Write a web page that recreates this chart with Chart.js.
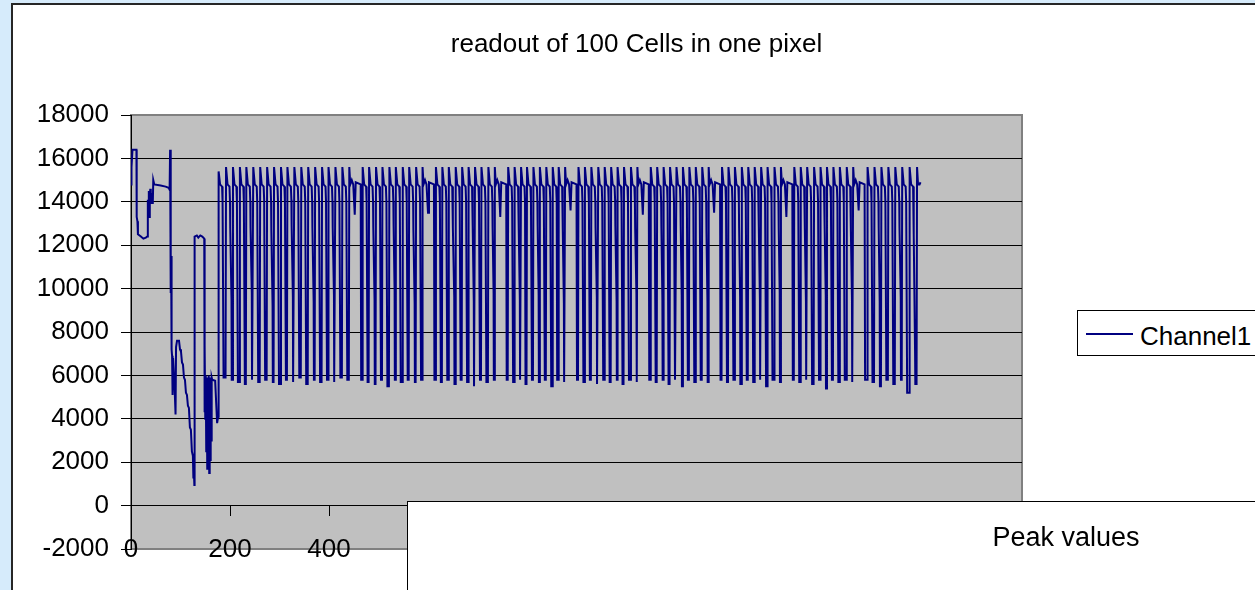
<!DOCTYPE html>
<html>
<head>
<meta charset="utf-8">
<script src="https://cdn.jsdelivr.net/npm/chart.js@4.4.0/dist/chart.umd.min.js"></script>
<style>
html,body{margin:0;padding:0;width:1255px;height:590px;overflow:hidden;background:#d6ebfb;font-family:"Liberation Sans",Arial,sans-serif;}
#frame{position:absolute;left:11px;top:3px;width:1400px;height:700px;background:#fff;border:2px solid #262626;box-sizing:border-box;}
#chartBox{position:absolute;left:0;top:0;width:1255px;height:590px;}
#title{position:absolute;left:0;width:1273px;top:28px;text-align:center;font-size:26px;color:#000;white-space:nowrap;}
#legend{position:absolute;left:1077px;top:310px;width:240px;height:46px;border:1px solid #000;background:#fff;box-sizing:border-box;}
#legend .sw{position:absolute;left:8px;top:22px;width:47px;height:2px;background:#000080;}
#legend .tx{position:absolute;left:62px;top:10px;font-size:26px;line-height:30px;color:#000;white-space:nowrap;}
#peak{position:absolute;left:407px;top:501px;width:1000px;height:200px;border:1px solid #000;background:#fff;box-sizing:border-box;}
#peak .tx{position:absolute;left:0;width:1316px;top:20px;text-align:center;font-size:27px;line-height:30px;color:#000;white-space:nowrap;}
</style>
</head>
<body>
<div id="frame"></div>
<div id="chartBox"><canvas id="c" width="1255" height="590"></canvas></div>
<div id="title">readout of 100 Cells in one pixel</div>
<div id="legend"><div class="sw"></div><div class="tx">Channel1</div></div>
<div id="peak"><div class="tx">Peak values</div></div>
<script>
// ---- data: [sample index, ADC value] ----
const seriesName = "Channel1";
const xRange = [0, 1800];
const yRange = [-2000, 18000];
const xStep = 200;
const yStep = 2000;

const startup = [[0,14800],[1,15600],[3,16400],[11,16400],[11.5,13300],[13,13100],[14,12500],[20,12400],[25,12300],[30,12350],[33,12400],[34,14100],[35,13400],[36,14500],[37,13300],[38,14300],[39,14600],[40,13900],[41,14400],[42,13900],[43,14200],[44,13900],[45,15000],[47,14800],[60,14750],[70,14700],[76,14650],[78,14550],[79,16400],[80,11600],[80.5,9800],[81,11500],[82,7200],[83,6900],[84,5100],[85,6800],[88,5500],[90,4200],[91,7300],[93,7600],[97,7600],[99,7200],[101,7100],[103,6600],[105,6500],[107,5900],[109,5800],[111,5200],[113,5100],[115,4600],[117,4500],[119,3600],[121,3500],[123,2500],[125,2300],[126,1300],[127,1600],[128,950],[128.5,12400],[133,12450],[136,12350],[140,12450],[144,12400],[148,12300],[148.5,4300],[149,7400],[150,4000],[151,6000],[152,2500],[153,5800],[154,1700],[155,5900],[156,2200],[157,6000],[158,1500],[159,5800],[160,2100],[161,5900],[162,3000],[163,5900],[164,5800],[170,5750],[174,3800],[176,4100]];

const group1 = [[177,15400],[180,14800],[184,14700],[185,14000],[187,5900],
[191,5900],[192,15600],[195,14800],[199,14700],[200,14000],[200.5,12800],[203,9500],[203.5,5800],
[205,5800],[206,15600],[209,14800],[213,14700],[214,14000],[216,5700],
[219,5700],[220,15600],[223,14800],[227,14700],[228,14000],[230,5600],
[232,5600],[233,15600],[236,14800],[240,14700],[241,14000],[241.5,12800],[244,9800],[244.5,5800],
[246,5800],[247,15600],[250,14800],[254,14700],[255,14000],[257,5700],
[260,5700],[261,15600],[264,14800],[268,14700],[269,14100],[271,5800],
[274,5800],[275,15600],[278,14800],[282,14700],[283,14000],[283.5,12700],[286,9200],[286.5,5700],
[288,5700],[289,15600],[292,14800],[296,14700],[297,14000],[299,5600],
[302,5600],[303,15600],[306,14800],[310,14700],[311,14000],[313,5800],
[315,5800],[316,15600],[319,14800],[323,14700],[324,14100],[324.5,12900],[327,9600],[327.5,5700],
[329,5700],[330,15600],[333,14800],[337,14700],[338,14000],[340,5900],
[343,5900],[344,15600],[347,14800],[351,14700],[352,14000],[354,5600],
[357,5600],[358,15600],[361,14800],[365,14700],[366,14000],[366.5,12800],[369,9400],[369.5,5800],
[371,5800],[372,15600],[375,14800],[379,14700],[380,14000],[382,5700],
[385,5700],[386,15600],[389,14800],[393,14700],[394,14000],[396,5800],
[398,5800],[399,15600],[402,14800],[406,14700],[407,14000],[407.5,12800],[410,9700],[410.5,5700],
[412,5700],[413,15600],[416,14800],[420,14700],[421,14000],[423,5900],
[426,5900],[427,15600],[430,14800],[434,14700],[435,14000],[437,5800],
[440,5800],[441,15600],[443,14800],[446,15000],[449,14800],[452,13400],[454,14900],[464,14800],[465,5800]];

const group2 = [[467,5800],[468,15600],[471,14800],[475,14700],[476,14000],[478,5700],
[480,5700],[481,15600],[484,14800],[488,14700],[489,14000],[489.5,12800],[492,9500],[492.5,5600],
[494,5600],[495,15600],[498,14800],[502,14700],[503,14000],[505,5800],
[507,5800],[508,15600],[511,14800],[515,14700],[516,14000],[518,5500],
[521,5500],[522,15600],[525,14800],[529,14700],[530,14000],[530.5,12900],[532.5,9900],[533,5800],
[534,5800],[535,15600],[538,14800],[542,14700],[543,14100],[545,5700],
[548,5700],[549,15600],[552,14800],[556,14700],[557,14000],[559,5800],
[561,5800],[562,15600],[565,14800],[569,14700],[570,14000],[570.5,12700],[573,9300],[573.5,5700],
[575,5700],[576,15600],[579,14800],[583,14700],[584,14000],[586,5800],
[588,5800],[589,15600],[591,14800],[594,15000],[597,14800],[600,13500],[602,14900],[612,14800],[613,5800]];

const group3 = [[615,5800],[616,15600],[619,14800],[623,14700],[624,14000],[626,5700],
[628,5700],[629,15600],[632,14800],[636,14700],[637,14000],[639,5800],
[641,5800],[642,15600],[645,14800],[649,14700],[650,14000],[650.5,12800],[653,9600],[653.5,5600],
[655,5600],[656,15600],[659,14800],[663,14700],[664,14000],[666,5800],
[668,5800],[669,15600],[672,14800],[676,14700],[677,14000],[679,5700],
[681,5700],[682,15600],[685,14800],[689,14700],[690,14100],[690.5,12900],[692.5,9400],[693,5500],
[694,5500],[695,15600],[698,14800],[702,14700],[703,14000],[705,5800],
[707,5800],[708,15600],[711,14800],[715,14700],[716,14000],[718,5700],
[721,5700],[722,15600],[725,14800],[729,14700],[730,14000],[730.5,12800],[732.5,9800],[733,5800],
[734,5800],[735,15600],[737,14800],[740,15000],[743,14800],[746,13300],[748,14900],[758,14800],[759,5800]];

const group4 = [[761,5800],[762,15600],[765,14800],[769,14700],[770,14000],[772,5700],
[774,5700],[775,15600],[778,14800],[782,14700],[783,14000],[783.5,12800],[785.5,9500],[786,5800],
[787,5800],[788,15600],[791,14800],[795,14700],[796,14000],[797,5600],
[799,5600],[800,15600],[803,14800],[807,14700],[808,14000],[810,5800],
[812,5800],[813,15600],[816,14800],[820,14700],[821,14000],[821.5,12900],[823.5,9700],[824,5700],
[825,5700],[826,15600],[829,14800],[833,14700],[834,14000],[836,5800],
[838,5800],[839,15600],[842,14800],[846,14700],[847,14100],[849,5500],
[851,5500],[852,15600],[855,14800],[859,14700],[860,14000],[861,5800],
[863,5800],[864,15600],[867,14800],[871,14700],[872,14000],[872.5,12700],[874.5,9300],[875,5700],
[876,5700],[877,15600],[879,14800],[882,15000],[885,14800],[888,13600],[890,14900],[900,14800],[901,5800]];

const group5 = [[903,5800],[904,15600],[907,14800],[911,14700],[912,14000],[914,5700],
[916,5700],[917,15600],[920,14800],[924,14700],[925,14000],[927,5800],
[929,5800],[930,15600],[933,14800],[937,14700],[938,14000],[938.5,12800],[941,9600],[941.5,5600],
[943,5600],[944,15600],[947,14800],[951,14700],[952,14000],[954,5800],
[956,5800],[957,15600],[960,14800],[964,14700],[965,14000],[967,5700],
[969,5700],[970,15600],[973,14800],[977,14700],[978,14100],[978.5,12900],[981,9400],[981.5,5800],
[982,5800],[983,15600],[986,14800],[990,14700],[991,14000],[993,5600],
[995,5600],[996,15600],[999,14800],[1003,14700],[1004,14000],[1006,5800],
[1009,5800],[1010,15600],[1013,14800],[1017,14700],[1018,14000],[1018.5,12800],[1021,9800],[1021.5,5700],
[1022,5700],[1023,15600],[1025,14800],[1028,15000],[1031,14800],[1034,13400],[1036,14900],[1046,14800],[1047,5800]];

const group6 = [[1049,5800],[1050,15600],[1053,14800],[1057,14700],[1058,14000],[1060,5700],
[1062,5700],[1063,15600],[1066,14800],[1070,14700],[1071,14000],[1071.5,12800],[1073.5,9500],[1074,5800],
[1075,5800],[1076,15600],[1079,14800],[1083,14700],[1084,14000],[1086,5600],
[1088,5600],[1089,15600],[1092,14800],[1096,14700],[1097,14000],[1099,5800],
[1101,5800],[1102,15600],[1105,14800],[1109,14700],[1110,14000],[1110.5,12900],[1112.5,9700],[1113,5500],
[1114,5500],[1115,15600],[1118,14800],[1122,14700],[1123,14000],[1125,5800],
[1127,5800],[1128,15600],[1131,14800],[1135,14700],[1136,14100],[1138,5700],
[1140,5700],[1141,15600],[1144,14800],[1148,14700],[1149,14000],[1151,5800],
[1153,5800],[1154,15600],[1157,14800],[1161,14700],[1162,14000],[1162.5,12700],[1164.5,9400],[1165,5700],
[1166,5700],[1167,15600],[1169,14800],[1172,15000],[1175,14800],[1178,13500],[1180,14900],[1190,14800],[1191,5800]];

const group7 = [[1193,5800],[1194,15600],[1197,14800],[1201,14700],[1202,14000],[1204,5700],
[1206,5700],[1207,15600],[1210,14800],[1214,14700],[1215,14000],[1217,5800],
[1219,5800],[1220,15600],[1223,14800],[1227,14700],[1228,14000],[1228.5,12800],[1230.5,9600],[1231,5600],
[1233,5600],[1234,15600],[1237,14800],[1241,14700],[1242,14000],[1244,5800],
[1246,5800],[1247,15600],[1250,14800],[1254,14700],[1255,14000],[1257,5700],
[1259,5700],[1260,15600],[1263,14800],[1267,14700],[1268,14100],[1268.5,12900],[1270.5,9500],[1271,5800],
[1272,5800],[1273,15600],[1276,14800],[1280,14700],[1281,14000],[1283,5500],
[1285,5500],[1286,15600],[1289,14800],[1293,14700],[1294,14000],[1296,5800],
[1299,5800],[1300,15600],[1303,14800],[1307,14700],[1308,14000],[1308.5,12800],[1310.5,9800],[1311,5700],
[1312,5700],[1313,15600],[1315,14800],[1318,15000],[1321,14800],[1324,13300],[1326,14900],[1336,14800],[1337,5800]];

const group8 = [[1339,5800],[1340,15600],[1343,14800],[1347,14700],[1348,14000],[1350,5700],
[1352,5700],[1353,15600],[1356,14800],[1360,14700],[1361,14000],[1361.5,12800],[1363.5,9400],[1364,5800],
[1365,5800],[1366,15600],[1369,14800],[1373,14700],[1374,14000],[1376,5600],
[1379,5600],[1380,15600],[1383,14800],[1387,14700],[1388,14000],[1390,5800],
[1392,5800],[1393,15600],[1396,14800],[1400,14700],[1401,14000],[1401.5,12900],[1403.5,9700],[1404,5400],
[1405,5400],[1406,15600],[1409,14800],[1413,14700],[1414,14000],[1416,5800],
[1418,5800],[1419,15600],[1422,14800],[1426,14700],[1427,14100],[1429,5700],
[1431,5700],[1432,15600],[1435,14800],[1439,14700],[1440,14000],[1442,5800],
[1445,5800],[1446,15600],[1449,14800],[1453,14700],[1454,14000],[1454.5,12700],[1456.5,9500],[1457,5700],
[1458,5700],[1459,15600],[1461,14800],[1464,15000],[1467,14800],[1470,13600],[1472,14900],[1482,14800],[1483,5800]];

const group9 = [[1487,5800],[1488,15600],[1491,14800],[1495,14700],[1496,14000],[1498,5700],
[1501,5700],[1502,15600],[1505,14800],[1509,14700],[1510,14000],[1510.5,12800],[1512.5,9400],[1513,5500],
[1515,5500],[1516,15600],[1519,14800],[1523,14700],[1524,14000],[1526,5800],
[1529,5800],[1530,15600],[1533,14800],[1537,14700],[1538,14000],[1540,5600],
[1543,5600],[1544,15600],[1547,14800],[1551,14700],[1552,14000],[1552.5,12800],[1555,9600],[1555.5,5800],
[1557,5800],[1558,15600],[1561,14800],[1565,14700],[1566,14000],[1568,5200],
[1572,5200],[1573,15600],[1576,14800],[1580,14700],[1581,14000],[1581.5,12500],[1584,7000],[1584.5,5600],
[1587,5600],[1588,15600],[1590,14800],[1593,14800],[1595,14900]];

const readout = [].concat(startup, group1, group2, group3, group4, group5, group6, group7, group8, group9)
  .map(p => ({x: p[0], y: p[1]}));

const FONT = {family: '"Liberation Sans", Arial, sans-serif', size: 26};

const plotArea = {
  id: 'plotArea',
  beforeDraw(chart) {
    const {ctx, chartArea: a} = chart;
    ctx.save();
    ctx.fillStyle = '#c0c0c0';
    ctx.fillRect(a.left, a.top, a.right - a.left, a.bottom - a.top);
    ctx.strokeStyle = '#808080';
    ctx.lineWidth = 2;
    ctx.strokeRect(a.left, a.top, a.right - a.left, a.bottom - a.top);
    ctx.restore();
  }
};

new Chart(document.getElementById('c'), {
  type: 'line',
  data: {
    datasets: [{
      label: seriesName,
      data: readout,
      borderColor: '#000080',
      borderWidth: 2,
      pointRadius: 0,
      tension: 0,
      fill: false
    }]
  },
  options: {
    responsive: false,
    animation: false,
    devicePixelRatio: 1,
    layout: {padding: {left: 0, right: 233, top: 115, bottom: 41}},
    plugins: {legend: {display: false}, title: {display: false}, tooltip: {enabled: false}},
    scales: {
      x: {
        type: 'linear',
        position: {y: 0},
        min: xRange[0], max: xRange[1],
        ticks: {stepSize: xStep, color: '#000', font: FONT, padding: 19, maxRotation: 0, autoSkip: false,
                callback: (v) => String(v)},
        grid: {drawOnChartArea: false, drawTicks: true, tickLength: 10, tickColor: '#000'},
        border: {display: true, color: '#000', width: 1},
        afterFit(s) { s.paddingLeft = 0; s.paddingRight = 0; }
      },
      y: {
        type: 'linear',
        position: 'left',
        min: yRange[0], max: yRange[1],
        ticks: {stepSize: yStep, color: '#000', font: FONT, padding: 12, callback: (v) => String(v)},
        grid: {
          color: (c) => (c.tick && (c.tick.value === yRange[0] || c.tick.value === yRange[1])) ? '#808080' : '#000000',
          lineWidth: 1, tickLength: 10, tickColor: '#000'
        },
        border: {display: true, color: '#000', width: 1},
        afterFit(s) { s.width = 131; s.paddingTop = 0; s.paddingBottom = 0; }
      }
    }
  },
  plugins: [plotArea]
});
</script>
</body>
</html>
